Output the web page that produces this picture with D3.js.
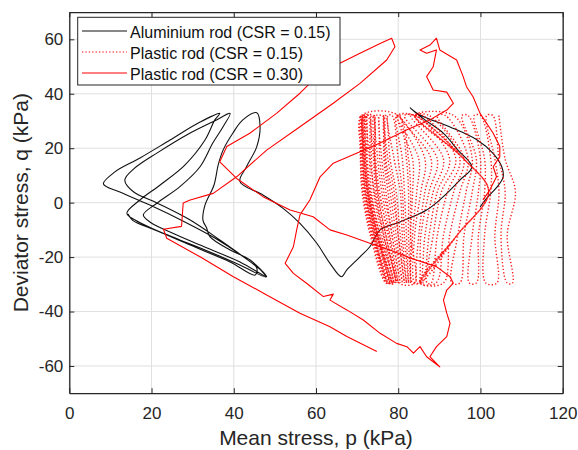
<!DOCTYPE html>
<html><head><meta charset="utf-8">
<script src="https://cdn.jsdelivr.net/npm/d3@7"></script>
<style>
html,body{margin:0;padding:0;background:#fff;}
svg{display:block;font-family:"Liberation Sans",Arial,sans-serif;}
</style></head>
<body><svg id="chart" width="578" height="450"></svg>
<script>
// ---- data (p = mean stress kPa, q = deviator stress kPa) ----
const xTicks = [0, 20, 40, 60, 80, 100, 120];
const yTicks = [-60, -40, -20, 0, 20, 40, 60];
const seriesNames = ["Aluminium rod (CSR = 0.15)", "Plastic rod (CSR = 0.15)", "Plastic rod (CSR = 0.30)"];

// Aluminium rod, CSR 0.15 (black)
const aluP = [99.9,101.8,104.0,105.5,105.2,103.0,99.2,92.6,85.3,82.9,86.5,90.9,94.5,97.9,95.0,90.9,86.9,80.4,75.6,73.1,70.7,67.5,66.2,63.4,60.2,56.1,52.0,47.1,41.5,43.1,45.6,46.4,45.6,42.2,39.8,37.4,36.2,35.2,33.0,32.5,33.4,34.2,39.1,43.9,48.0,41.5,31.8,24.5,19.6,18.0,21.3,26.9,31.8,34.9,37.4,39.1,35.8,29.4,21.3,15.6,13.5,15.6,21.3,29.4,36.6,42.7,45.6,45.2,39.1,29.4,22.1,16.0,14.0,17.2,22.1,28.1,33.0,35.4,36.6,31.8,24.5,17.2,11.1,8.3,12.3,19.6,28.1,35.4,42.7,46.9,47.8,41.5,34.2,26.9,20.8,15.4,14.3];
const aluQ = [-1.6,2.1,5.7,9.4,13.1,18.2,23.0,27.8,32.2,34.8,30.4,25.6,19.3,13.1,8.3,2.1,-2.7,-7.1,-10.0,-16.2,-19.9,-24.7,-27.2,-22.3,-14.9,-7.6,-2.1,2.8,7.7,13.2,20.6,27.9,33.0,30.4,25.6,19.3,13.8,6.5,-0.9,-6.4,-9.3,-12.5,-17.4,-21.0,-27.2,-21.8,-15.6,-10.8,-7.1,-4.5,-0.2,5.9,13.2,21.9,27.9,32.8,30.4,25.6,18.2,12.3,8.3,4.0,-0.1,-6.4,-13.7,-20.3,-24.0,-26.6,-21.8,-15.6,-10.8,-6.4,-3.9,1.0,6.5,13.8,23.0,30.4,32.8,29.6,23.0,16.4,11.3,6.9,3.9,-0.9,-7.1,-13.0,-20.3,-25.3,-27.3,-22.9,-18.1,-13.7,-10.0,-6.5,-4.2];

// Plastic rod, CSR 0.30 (solid red)
const pl30P = [100.6,102.3,103.9,103.1,104.7,104.7,103.1,99.9,98.2,96.6,95.8,94.2,90.1,89.3,87.7,85.3,86.9,89.3,88.5,86.9,88.5,91.8,93.4,91.8,87.7,82.1,75.6,70.0,64.2,61.0,58.5,56.1,55.3,54.5,52.5,54.5,57.7,61.8,64.2,63.4,67.5,71.5,75.6,79.6,82.1,83.7,85.3,86.9,90.1,87.7,89.3,91.8,92.6,91.8,91.0,91.8,93.4,92.6,89.3,82.9,78.0,73.1,67.5,63.4,59.3,53.7,47.1,40.7,36.6,38.3,43.9,50.4,56.1,58.5,65.8,70.7,75.6,78.4,79.2,77.2,70.7,64.2,56.1,48.0,40.7,35.0,29.4,27.7,27.3,22.9,23.7,31.8,39.9,48.0,56.1,63.4,67.5,74.8];
const pl30Q = [1.0,4.7,9.5,13.2,16.9,20.6,25.5,32.8,38.9,42.6,46.3,52.4,56.1,60.4,57.9,56.1,54.9,56.1,49.9,46.3,41.4,40.6,36.5,34.0,30.4,26.8,21.9,18.2,14.5,9.5,1.0,-4.5,-10.0,-16.2,-22.3,-26.0,-29.6,-34.5,-33.6,-35.8,-39.4,-43.1,-48.0,-51.7,-52.9,-55.3,-52.9,-56.6,-60.3,-56.6,-52.9,-49.2,-44.3,-40.6,-35.8,-32.1,-29.6,-27.2,-23.5,-20.3,-17.4,-14.9,-11.9,-10.0,-5.2,-2.7,2.2,8.9,15.0,20.6,25.5,32.8,40.2,43.8,51.2,54.9,58.5,60.4,57.3,52.4,43.8,36.5,27.9,19.3,9.5,3.4,1.0,-0.1,-8.7,-9.8,-13.1,-19.9,-27.2,-33.9,-40.6,-45.6,-49.2,-54.7];

// Plastic rod, CSR 0.15 (dotted red): one stroke per half cycle, p read at these q levels
const dotQLevels = [32, 16, 4, -12, -29.5];
const dotPTop = [104.5,103.0,101.5,100.0,98.5,97.0,95.5,
  93.5,84.0,91.5,89.5,84.0,87.5,86.0,84.0,84.5,83.0,84.0,81.5,80.5,84.0,80.0,79.5,84.0,
  80.0,80.3,79.5,78.5,77.5,77.0,76.6,76.6,76.5,76.2,75.5,75.0,74.5,74.2,74.0,74.0,73.5,73.0,72.5,72.2,72.0,71.8,71.6,71.5,71.3,71.2,71.0,70.8,70.7,71.4,72.0,71.5,72.6,71.1,80.0,73.8,71.7];
const dotP16 = [106.0,104.5,103.5,102.5,101.0,100.0,99.0,
  98.0,96.0,97.0,96.0,96.0,95.0,94.0,96.0,92.5,91.0,96.0,89.5,88.0,96.0,86.5,85.0,96.0,
  83.5,82.0,81.0,80.0,79.0,78.0,77.5,77.0,76.8,76.5,76.0,75.5,75.0,74.5,74.3,74.2,74.0,73.5,73.0,72.5,72.2,72.0,71.8,71.6,71.4,71.2,71.0,70.9,70.8,71.6,72.4,71.7,73.2,71.3,82.5,74.2,72.0];
const dotP4 = [108.5,106.0,104.5,102.5,101.0,99.5,98.0,
  96.5,102.0,95.0,93.5,102.0,92.0,90.5,102.0,89.5,88.5,102.0,87.5,86.5,102.0,85.5,84.5,102.0,
  83.5,82.5,81.5,81.0,80.5,79.5,79.0,78.5,78.0,77.5,77.0,76.5,76.0,75.5,75.0,74.8,74.5,74.0,73.5,73.2,73.0,72.8,72.5,72.2,72.0,71.8,71.6,71.4,71.2,72.4,73.2,72.6,74.2,72.0,83.0,75.2,72.7];
const dotPm12 = [106.5,105.0,103.5,101.0,99.5,98.0,96.0,
  94.5,94.3,92.5,91.0,94.3,89.5,88.5,94.3,87.5,86.5,94.3,85.5,85.0,94.3,84.0,83.5,94.3,
  83.0,82.5,82.0,81.5,81.0,80.5,80.0,80.0,79.5,79.0,78.5,78.5,78.0,77.5,77.0,77.0,76.5,76.0,75.5,75.2,75.0,74.8,74.5,74.3,74.0,73.8,73.6,73.4,73.2,74.6,75.6,74.9,76.4,74.2,83.0,77.8,75.0];
const dotPBot = [107.8,106.5,104.0,101.3,99.0,97.3,95.0,
  93.0,85.3,91.0,89.2,85.3,88.0,87.0,85.3,86.0,85.5,85.3,85.0,84.5,85.3,84.0,83.5,85.3,
  83.0,83.0,82.5,82.5,82.0,82.0,81.5,81.5,81.0,81.0,80.5,80.5,80.0,80.0,79.5,79.5,79.0,79.0,78.5,78.5,78.0,78.0,77.8,77.5,77.5,77.3,77.2,77.0,77.0,78.2,78.8,78.4,79.2,77.6,84.0,80.2,78.6];

// ---- layout ----
const L = 69.3, R = 562.7, T = 12.1, B = 393.2;
const svg = d3.select("#chart");
const x = d3.scaleLinear().domain([0, 120]).range([L, R]);
const y = d3.scaleLinear().domain([-70, 70]).range([B, T]);
const axisColor = "#262626";

// grid
const grid = svg.append("g");
grid.selectAll("line.gx").data(xTicks).join("line")
  .attr("x1", d => x(d)).attr("x2", d => x(d)).attr("y1", T).attr("y2", B)
  .attr("stroke", "#dfdfdf").attr("stroke-width", 1);
grid.selectAll("line.gy").data(yTicks).join("line")
  .attr("y1", d => y(d)).attr("y2", d => y(d)).attr("x1", L).attr("x2", R)
  .attr("stroke", "#dfdfdf").attr("stroke-width", 1);

svg.append("clipPath").attr("id", "clip").append("rect")
  .attr("x", L).attr("y", T).attr("width", R - L).attr("height", B - T);
const plot = svg.append("g").attr("clip-path", "url(#clip)");

// black series
const alu = aluP.map((p, i) => [p, aluQ[i]]);
plot.append("path").datum(alu)
  .attr("d", d3.line().x(d => x(d[0])).y(d => y(d[1])).curve(d3.curveCatmullRom.alpha(0.5)))
  .attr("fill", "none").attr("stroke", "#111").attr("stroke-width", 1.1).attr("stroke-linejoin", "round");

// dotted series: zigzag through strands
const dotPts = [];
dotPTop.forEach((t, i) => {
  const ps = [t, dotP16[i], dotP4[i], dotPm12[i], dotPBot[i]];
  let pts = ps.map((p, k) => [p, dotQLevels[k]]);
  if (i % 2 === 1) pts = pts.reverse();
  dotPts.push(...pts);
});
const dotLine = d3.line().x(d => x(d[0])).y(d => y(d[1])).curve(d3.curveCatmullRom.alpha(0.5));
plot.append("path").datum(dotPts).attr("d", dotLine)
  .attr("fill", "none").attr("stroke", "#ff0000").attr("stroke-width", 1.4)
  .attr("stroke-dasharray", "1.3,2.1").attr("opacity", 0.9);

// solid red series
const pl30 = pl30P.map((p, i) => [p, pl30Q[i]]);
plot.append("path").datum(pl30).attr("d", d3.line().x(d => x(d[0])).y(d => y(d[1])))
  .attr("fill", "none").attr("stroke", "#ff0000").attr("stroke-width", 1.1).attr("stroke-linejoin", "round");

// axes
const fmt = d => String(d);
const ax = svg.append("g").attr("transform", `translate(0,${B})`)
  .call(d3.axisBottom(x).tickValues(xTicks).tickSizeInner(-5).tickSizeOuter(0).tickPadding(14).tickFormat(fmt));
const ay = svg.append("g").attr("transform", `translate(${L},0)`)
  .call(d3.axisLeft(y).tickValues(yTicks).tickSizeInner(-5).tickSizeOuter(0).tickPadding(6).tickFormat(fmt));
const axT = svg.append("g").attr("transform", `translate(0,${T})`)
  .call(d3.axisTop(x).tickValues(xTicks).tickSizeInner(-5).tickSizeOuter(0).tickFormat(""));
const ayR = svg.append("g").attr("transform", `translate(${R},0)`)
  .call(d3.axisRight(y).tickValues(yTicks).tickSizeInner(-5).tickSizeOuter(0).tickFormat(""));
[ax, ay, axT, ayR].forEach(g => {
  g.selectAll("path.domain").attr("stroke", axisColor).attr("stroke-width", 1.3);
  g.selectAll(".tick line").attr("stroke", axisColor).attr("stroke-width", 1);
  g.selectAll(".tick text").attr("fill", axisColor).style("font-size", "17px")
    .style("font-family", '"Liberation Sans", Arial, sans-serif');
});

// axis titles
svg.append("text").attr("x", (L + R) / 2).attr("y", 445).attr("text-anchor", "middle")
  .attr("fill", axisColor).style("font-size", "21px").text("Mean stress, p (kPa)");
svg.append("text").attr("transform", `translate(28,${(T + B) / 2}) rotate(-90)`).attr("text-anchor", "middle")
  .attr("fill", axisColor).style("font-size", "21px").text("Deviator stress, q (kPa)");

// legend
const lg = svg.append("g");
lg.append("rect").attr("x", 77.7).attr("y", 17.3).attr("width", 262.3).attr("height", 67.7)
  .attr("fill", "#fff").attr("stroke", axisColor).attr("stroke-width", 1);
const legStyles = [
  {stroke: "#111", dash: null},
  {stroke: "#ff0000", dash: "1.3,2.1"},
  {stroke: "#ff0000", dash: null}
];
seriesNames.forEach((name, i) => {
  const cy = 31 + i * 21;
  lg.append("line").attr("x1", 82).attr("x2", 127).attr("y1", cy).attr("y2", cy)
    .attr("stroke", legStyles[i].stroke).attr("stroke-width", 1.2)
    .attr("stroke-dasharray", legStyles[i].dash);
  lg.append("text").attr("x", 130).attr("y", cy + 6.5).attr("fill", "#111")
    .style("font-size", "16px").text(name);
});
</script></body></html>
